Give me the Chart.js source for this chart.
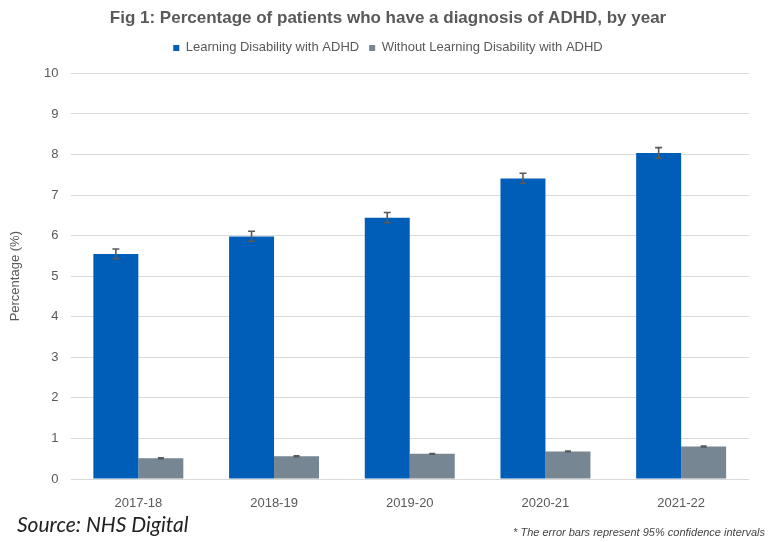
<!DOCTYPE html>
<html lang="en">
<head>
    <meta charset="UTF-8">
    <title>Fig 1: ADHD diagnosis by year</title>
    <script src="https://cdn.jsdelivr.net/npm/chart.js"></script>
    <style>
        body { margin: 0; background: #fff; }
        #wrap { position: relative; width: 768px; height: 542px; }
        #source { position: absolute; left: 17px; top: 511px; font: italic 21px Lato, "Open Sans", sans-serif; color: #222; }
        #note { position: absolute; right: 3px; top: 526px; font: italic 11px "Liberation Sans", Arial, sans-serif; color: #444; }
    </style>
</head>
<body>
    <div id="wrap">
        <canvas id="chart" width="768" height="542"></canvas>
        <div id="source">Source: NHS Digital</div>
        <div id="note">* The error bars represent 95% confidence intervals</div>
    </div>

    <script>
        const years = ['2017-18', '2018-19', '2019-20', '2020-21', '2021-22'];
        // Learning Disability with ADHD (%), with 95% CI bounds
        const ldValues = [5.55, 5.98, 6.44, 7.41, 8.04];
        const ldLower  = [5.43, 5.86, 6.32, 7.29, 7.91];
        const ldUpper  = [5.67, 6.11, 6.57, 7.54, 8.17];
        // Without Learning Disability with ADHD (%)
        const noLdValues = [0.51, 0.56, 0.62, 0.68, 0.80];
        const noLdLower  = [0.50, 0.55, 0.61, 0.67, 0.79];
        const noLdUpper  = [0.52, 0.57, 0.63, 0.69, 0.81];

        const textGrey = '#595959';
        const font = "'Liberation Sans', Arial, sans-serif";

        // draws the CI whiskers from the lower/upper arrays
        const errorBars = {
            id: 'errorBars',
            afterDatasetsDraw(chart) {
                const ctx = chart.ctx;
                const y = chart.scales.y;
                chart.data.datasets.forEach((ds, i) => {
                    const meta = chart.getDatasetMeta(i);
                    meta.data.forEach((bar, j) => {
                        const top = y.getPixelForValue(ds.upper[j]);
                        const bot = y.getPixelForValue(ds.lower[j]);
                        const half = ds.capWidth / 2;
                        ctx.save();
                        ctx.strokeStyle = '#595959';
                        ctx.lineWidth = 1.6;
                        ctx.beginPath();
                        ctx.moveTo(bar.x, top); ctx.lineTo(bar.x, bot);
                        ctx.moveTo(bar.x - half, top); ctx.lineTo(bar.x + half, top);
                        ctx.moveTo(bar.x - half, bot); ctx.lineTo(bar.x + half, bot);
                        ctx.stroke();
                        ctx.restore();
                    });
                });
            }
        };

        const legendGap = {
            id: 'legendGap',
            beforeInit(chart) {
                const fit = chart.legend.fit;
                chart.legend.fit = function () {
                    fit.bind(chart.legend)();
                    this.height += 9;
                };
            }
        };

        new Chart(document.getElementById('chart'), {
            type: 'bar',
            data: {
                labels: years,
                datasets: [{
                    label: 'Learning Disability with ADHD',
                    data: ldValues,
                    lower: ldLower,
                    upper: ldUpper,
                    capWidth: 7,
                    backgroundColor: '#005EB8',
                    borderWidth: 0
                }, {
                    label: 'Without Learning Disability with ADHD',
                    data: noLdValues,
                    lower: noLdLower,
                    upper: noLdUpper,
                    capWidth: 6,
                    backgroundColor: '#768692',
                    borderWidth: 0
                }]
            },
            options: {
                responsive: false,
                animation: false,
                categoryPercentage: 0.663,
                barPercentage: 1.0,
                layout: { padding: { left: 8, right: 0, top: 0, bottom: 0 } },
                plugins: {
                    title: {
                        display: true,
                        text: 'Fig 1: Percentage of patients who have a diagnosis of ADHD, by year',
                        color: textGrey,
                        font: { family: font, size: 17, weight: 'bold' },
                        padding: { top: 8, bottom: 3 }
                    },
                    legend: {
                        labels: {
                            color: textGrey,
                            font: { family: font, size: 13 },
                            boxWidth: 6,
                            boxHeight: 6,
                            padding: 10
                        }
                    },
                    tooltip: { enabled: false }
                },
                scales: {
                    x: {
                        grid: { display: false },
                        border: { display: false },
                        ticks: { color: textGrey, font: { family: font, size: 13 }, padding: 9 },
                        afterFit(scale) { scale.height = 63; }
                    },
                    y: {
                        min: 0,
                        max: 10,
                        ticks: { stepSize: 1, color: textGrey, font: { family: font, size: 13 }, padding: 12 },
                        grid: { color: '#d9d9d9', lineWidth: 1, drawTicks: false },
                        border: { display: false },
                        title: {
                            display: true,
                            text: 'Percentage (%)',
                            color: textGrey,
                            font: { family: font, size: 13 },
                            padding: { top: 0, bottom: 0 }
                        },
                        afterFit(scale) { scale.width = 62.5; }
                    },
                    // empty right-hand gutter so the plot ends where the reference does
                    y2: {
                        position: 'right',
                        grid: { display: false },
                        border: { display: false },
                        ticks: { display: false },
                        afterFit(scale) { scale.width = 19; }
                    }
                }
            },
            plugins: [errorBars, legendGap]
        });
    </script>
</body>
</html>
